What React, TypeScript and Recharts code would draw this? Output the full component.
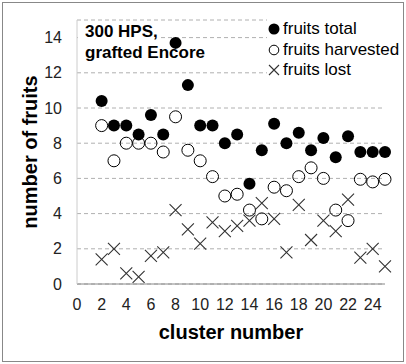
import {
  ScatterChart,
  Scatter,
  XAxis,
  YAxis,
  CartesianGrid,
  Legend,
  Label,
} from 'recharts';

// cluster numbers (cluster 1 has no data)
const clusters = [2, 3, 4, 5, 6, 7, 8, 9, 10, 11, 12, 13, 14, 15, 16, 17, 18, 19, 20, 21, 22, 23, 24, 25];
const fruitsTotal = [10.4, 9, 9, 8.5, 9.6, 8.5, 13.7, 11.3, 9, 9, 8, 8.5, 5.7, 7.6, 9.1, 8, 8.6, 7.6, 8.3, 7.2, 8.4, 7.5, 7.5, 7.5];
const fruitsHarvested = [9, 7, 8, 8, 8, 7.5, 9.5, 7.6, 7, 6.1, 5, 5.1, 4.2, 3.7, 5.5, 5.3, 6.1, 6.6, 6, 4.2, 3.6, 5.95, 5.8, 5.95];
const fruitsLost = [1.4, 2, 0.6, 0.4, 1.6, 1.8, 4.2, 3.1, 2.3, 3.5, 3, 3.3, 3.6, 4.6, 3.7, 1.8, 4.5, 2.5, 3.6, 3, 4.8, 1.5, 2, 1];

const xTicks = [0, 2, 4, 6, 8, 10, 12, 14, 16, 18, 20, 22, 24];
const yTicks = [0, 2, 4, 6, 8, 10, 12, 14];

const FONT = '"Liberation Sans", Arial, sans-serif';

const toPoints = (vals: number[]) => clusters.map((c, i) => ({ x: c, y: vals[i] }));

const FilledDot = (props: any) => <circle cx={props.cx} cy={props.cy} r={6} fill="#000" />;

const OpenDot = (props: any) => (
  <circle cx={props.cx} cy={props.cy} r={6} fill="none" stroke="#000" strokeWidth={1} />
);

const Cross = (props: any) => {
  const { cx, cy } = props;
  const s = 6;
  return (
    <path
      d={`M${cx - s},${cy - s}L${cx + s},${cy + s}M${cx + s},${cy - s}L${cx - s},${cy + s}`}
      stroke="#333"
      strokeWidth={1.1}
      fill="none"
    />
  );
};

const legendItems = [
  { name: 'fruits total', marker: <circle cx={6} cy={6} r={5.5} fill="#000" /> },
  { name: 'fruits harvested', marker: <circle cx={6} cy={6} r={4.8} fill="none" stroke="#000" /> },
  { name: 'fruits lost', marker: <path d="M1,1L11,11M11,1L1,11" stroke="#333" strokeWidth={1.1} /> },
];

const renderLegend = () => (
  <div style={{ background: '#fff', fontFamily: FONT, fontSize: 17, color: '#000' }}>
    {legendItems.map((item) => (
      <div key={item.name} style={{ display: 'flex', alignItems: 'center', height: 20.5, whiteSpace: 'nowrap' }}>
        <svg width={12} height={12} style={{ marginLeft: 1, marginRight: 3 }}>
          {item.marker}
        </svg>
        <span>{item.name}</span>
      </div>
    ))}
  </div>
);

export default function App() {
  return (
    <div style={{ position: 'absolute', left: 0, top: 0, width: 406, height: 364, background: '#fff', fontFamily: FONT }}>
      <ScatterChart width={406} height={364} margin={{ top: 20, right: 21, bottom: 0, left: 0 }}>
        <CartesianGrid vertical={false} strokeDasharray="4 3" stroke="#b0b0b0" />
        <XAxis
          type="number"
          dataKey="x"
          domain={[0, 25]}
          ticks={xTicks}
          interval={0}
          height={80}
          tickLine={false}
          tickMargin={9}
          axisLine={{ stroke: '#888' }}
          tick={{ fill: '#222', fontSize: 16, fontFamily: FONT }}
        >
          <Label
            content={() => (
              <text x={231} y={339} textAnchor="middle" fontFamily={FONT} fontWeight="bold" fontSize={20} fill="#000">
                cluster number
              </text>
            )}
          />
        </XAxis>
        <YAxis
          type="number"
          dataKey="y"
          domain={[0, 15]}
          ticks={yTicks}
          interval={0}
          width={77}
          tickLine={false}
          tickMargin={9}
          axisLine={{ stroke: '#ccc' }}
          tick={{ fill: '#222', fontSize: 16, fontFamily: FONT }}
        >
          <Label
            content={() => (
              <text
                x={37}
                y={152}
                transform="rotate(-90 37 152)"
                textAnchor="middle"
                fontFamily={FONT}
                fontWeight="bold"
                fontSize={20}
                fill="#000"
              >
                number of fruits
              </text>
            )}
          />
        </YAxis>
        <Legend
          layout="vertical"
          align="center"
          verticalAlign="middle"
          wrapperStyle={{ top: 19, left: 267, width: 134 }}
          content={renderLegend}
        />
        <Scatter name="fruits total" data={toPoints(fruitsTotal)} shape={FilledDot} isAnimationActive={false} />
        <Scatter name="fruits harvested" data={toPoints(fruitsHarvested)} shape={OpenDot} isAnimationActive={false} />
        <Scatter name="fruits lost" data={toPoints(fruitsLost)} shape={Cross} isAnimationActive={false} />
      </ScatterChart>
      <div style={{ position: 'absolute', left: 78, top: 21, fontWeight: 'bold', fontSize: 17, lineHeight: '21px', color: '#000' }}>
        <div style={{ background: '#fff', paddingLeft: 7, width: 75 }}>300 HPS,</div>
        <div style={{ paddingLeft: 7 }}>grafted Encore</div>
      </div>
      <div
        style={{
          position: 'absolute',
          left: 2,
          top: 2,
          width: 402,
          height: 360,
          boxSizing: 'border-box',
          border: '1px solid #888',
          pointerEvents: 'none',
        }}
      />
    </div>
  );
}
